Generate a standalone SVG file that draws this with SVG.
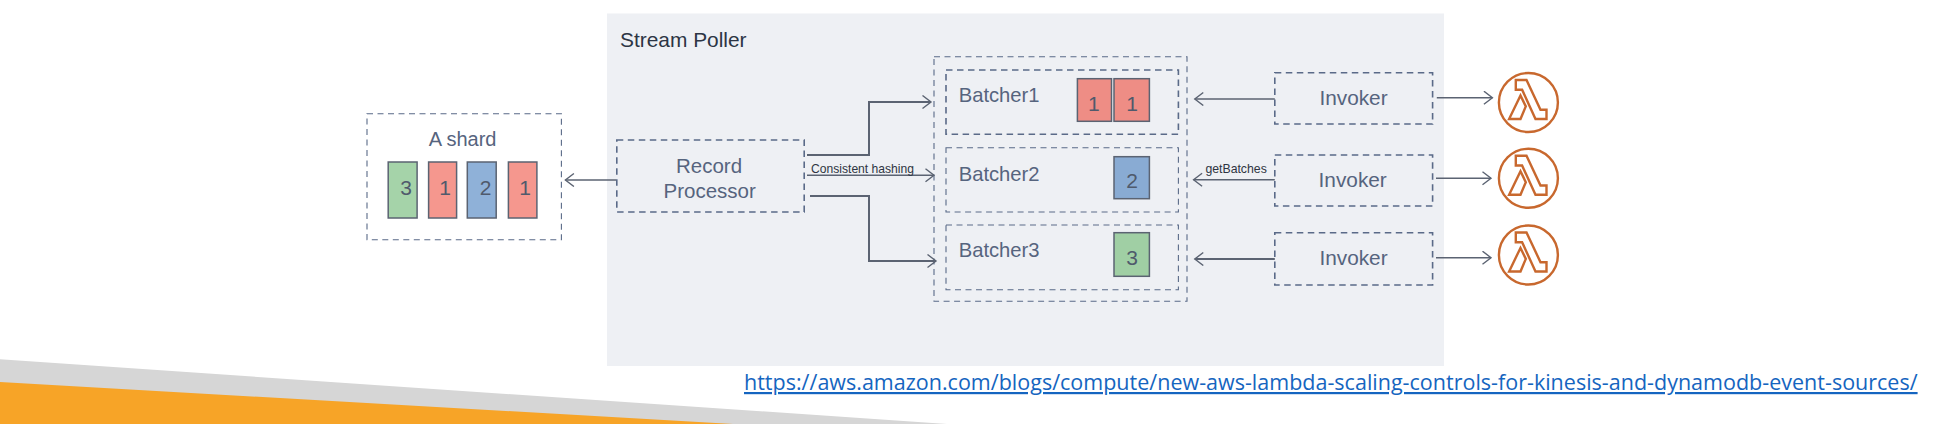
<svg xmlns="http://www.w3.org/2000/svg" width="1956" height="424" viewBox="0 0 1956 424">
<style>
text{font-family:"Liberation Sans",Arial,sans-serif;fill:#56647e}
.n{font-size:20.5px;text-anchor:middle}
.d{font-size:21px;text-anchor:middle;fill:#4f5a6c}
.s{font-size:12.2px;fill:#2f3542}
.b{fill:none;stroke:#5a6a88;stroke-width:1.6;stroke-dasharray:6.5 4.5}
.t{fill:none;stroke:#5a6a88;stroke-width:1.1;stroke-dasharray:6 4.5}
.c{fill:none;stroke:#5b6372;stroke-width:1.4}
.h{stroke-width:2}
.r{stroke:#5b6372;stroke-width:1.5}
.red{fill:#f5978e}.red2{fill:#ee8d85}.blue{fill:#8fb1d8}.blue2{fill:#89abd3}.green{fill:#a5d3a9}.green2{fill:#a0cfa4}
.l{fill:none;stroke:#c8682e;stroke-width:2.4}
</style>
<defs>
<marker id="a" markerUnits="userSpaceOnUse" markerWidth="12" markerHeight="16" refX="10" refY="7" orient="auto"><path d="M1.500 .500L10 7L1.500 13.500" fill="none" stroke="#5b6372" stroke-width="1.4"/></marker>
<g id="lambda">
<circle cx="0" cy="0" r="29.500" class="l"/>
<path class="l" d="M-12.600-22.500H-1.900L12.100 7.200H18.100V16.500H7.100L-6.300-12.800H-12.600Z"/>
<path class="l" d="M-7.900-7.100L-2.600 3.900L-7.900 16.500H-19.300Z"/>
</g>
</defs>
<g id="footer">
<polygon points="0,359.300 947,424 0,424" fill="#d6d6d6"/>
<polygon points="0,382 733,424 0,424" fill="#f7a427"/>
</g>
<g id="stream-poller">
<rect x="607" y="13.500" width="837" height="352.500" fill="#eef0f4"/>
<text x="620" y="47" style="font-size:20.900px;fill:#2c3544">Stream Poller</text>
</g>
<g id="shard">
<rect class="t" x="367" y="113.700" width="194.400" height="126"/>
<text class="n" x="462.600" y="146" style="font-size:20px">A shard</text>
<rect class="r green" x="388.200" y="162" width="28.900" height="56"/>
<rect class="r red" x="428.600" y="162" width="28" height="56"/>
<rect class="r blue" x="467.300" y="162" width="28.900" height="56"/>
<rect class="r red" x="508.400" y="162" width="28.500" height="56"/>
<text class="d" x="406" y="195">3</text>
<text class="d" x="445" y="195">1</text>
<text class="d" x="485.500" y="195">2</text>
<text class="d" x="525" y="195">1</text>
</g>
<g id="record-processor">
<rect class="b" x="616.800" y="140" width="187.400" height="72"/>
<text class="n" x="709" y="173">Record</text>
<text class="n" x="709.700" y="198">Processor</text>
</g>
<g id="batchers">
<rect class="t" x="934" y="56.700" width="253" height="244.600"/>
</g>
<g id="batcher1">
<rect class="b" x="946" y="70" width="232.400" height="64.300"/>
<text x="958.700" y="102.300" style="font-size:20.200px">Batcher1</text>
<rect class="r red2" x="1077.400" y="78.700" width="34.100" height="42.600"/>
<rect class="r red2" x="1114" y="78.700" width="35.400" height="42.600"/>
<text class="d" x="1093.800" y="111">1</text>
<text class="d" x="1132" y="111">1</text>
</g>
<g id="batcher2">
<rect class="t" x="946" y="147.700" width="232.400" height="64.300"/>
<text x="958.700" y="180.700" style="font-size:20.200px">Batcher2</text>
<rect class="r blue2" x="1114" y="156.700" width="35.400" height="42"/>
<text class="d" x="1132" y="188.300">2</text>
</g>
<g id="batcher3">
<rect class="t" x="946" y="225" width="232.400" height="64.700"/>
<text x="958.700" y="257" style="font-size:20.200px">Batcher3</text>
<rect class="r green2" x="1114" y="232.700" width="35.400" height="43.600"/>
<text class="d" x="1132" y="265">3</text>
</g>
<g id="invoker1">
<rect class="b" x="1274.800" y="72.700" width="157.800" height="51.300"/>
<text class="n" x="1353.500" y="105" style="font-size:20.800px">Invoker</text>
</g>
<g id="invoker2">
<rect class="b" x="1274.800" y="155" width="157.800" height="51"/>
<text class="n" x="1352.700" y="186.700" style="font-size:20.800px">Invoker</text>
</g>
<g id="invoker3">
<rect class="b" x="1274.800" y="232.700" width="157.800" height="52.300"/>
<text class="n" x="1353.500" y="265" style="font-size:20.800px">Invoker</text>
</g>
<g id="lambda1"><use href="#lambda" x="1528.400" y="102.500"/></g>
<g id="lambda2"><use href="#lambda" x="1528.400" y="178.300"/></g>
<g id="lambda3"><use href="#lambda" x="1528.400" y="255"/></g>
<g id="connectors">
<path class="c" marker-end="url(#a)" d="M616 180H565.400"/>
<path class="c h" marker-end="url(#a)" d="M807 155H869V102H931"/>
<path class="c" marker-end="url(#a)" d="M807 175.300H934"/>
<path class="c h" marker-end="url(#a)" d="M810 196H869V261H936"/>
<path class="c" marker-end="url(#a)" d="M1274.800 99H1194.800"/>
<path class="c" marker-end="url(#a)" d="M1274.800 179.700H1193.600"/>
<path class="c h" marker-end="url(#a)" d="M1274.800 259H1194.800"/>
<path class="c" marker-end="url(#a)" d="M1436.800 97.700H1492.400"/>
<path class="c" marker-end="url(#a)" d="M1436 178.300H1491"/>
<path class="c" marker-end="url(#a)" d="M1436 257.700H1491"/>
<text class="s" x="811" y="172.700" textLength="103" lengthAdjust="spacingAndGlyphs">Consistent hashing</text>
<text class="s" x="1205.400" y="173" textLength="61.400" lengthAdjust="spacingAndGlyphs">getBatches</text>
</g>
<g id="link">
<text x="744" y="390" textLength="1173.600" lengthAdjust="spacingAndGlyphs" style="font-family:'Open Sans',sans-serif;font-size:22px;fill:#1565c0;text-decoration:underline">https://aws.amazon.com/blogs/compute/new-aws-lambda-scaling-controls-for-kinesis-and-dynamodb-event-sources/</text>
</g>
</svg>
